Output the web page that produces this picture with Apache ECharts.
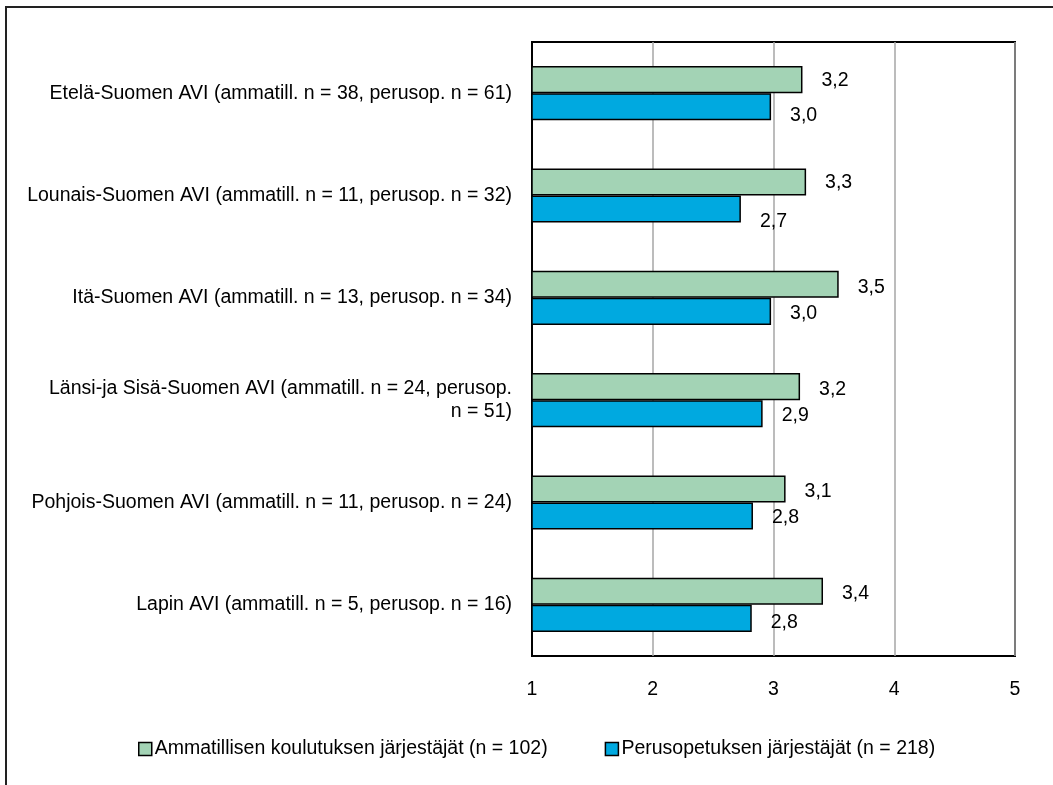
<!DOCTYPE html>
<html>
<head>
<meta charset="utf-8">
<script src="https://cdn.jsdelivr.net/npm/echarts@6/dist/echarts.min.js"></script>
<style>
html,body{margin:0;padding:0;background:#fff;}
#chart{width:1053px;height:785px;}
</style>
</head>
<body>
<div id="chart"></div>
<script>
const categories = [
  "Etelä-Suomen AVI (ammatill. n = 38, perusop. n = 61)",
  "Lounais-Suomen AVI (ammatill. n = 11, perusop. n = 32)",
  "Itä-Suomen AVI (ammatill. n = 13, perusop. n = 34)",
  "Länsi-ja Sisä-Suomen AVI (ammatill. n = 24, perusop.\nn = 51)",
  "Pohjois-Suomen AVI (ammatill. n = 11, perusop. n = 24)",
  "Lapin AVI (ammatill. n = 5, perusop. n = 16)"
];
const seriesNames = [
  "Ammatillisen koulutuksen järjestäjät (n = 102)",
  "Perusopetuksen järjestäjät (n = 218)"
];
const ammatillinen = [3.24, 3.27, 3.54, 3.22, 3.10, 3.41];
const perusopetus = [2.98, 2.73, 2.98, 2.91, 2.83, 2.82];
const xTicks = [1, 2, 3, 4, 5];

// label vertical nudges (style only)
const greenLabelDy = [1, 1, 3, 3, 3, 2];
const blueLabelDy = [9, 13, 2, 2, 2, 4];

const FONT = "'Liberation Sans', Arial, sans-serif";
const FS = 19.5;
const chart = echarts.init(document.getElementById('chart'), null, {renderer: 'canvas'});
const fmt = p => p.value.toFixed(1).replace('.', ',');

chart.setOption({
  backgroundColor: '#fff',
  animation: false,
  textStyle: {fontFamily: FONT},
  graphic: [{
    type: 'rect',
    shape: {x: 6, y: 7, width: 1200, height: 900},
    style: {fill: 'none', stroke: '#222', lineWidth: 2},
    silent: true
  }],
  grid: {
    left: 532, top: 42, right: 38, bottom: 129,
    show: true, borderColor: '#000', borderWidth: 2, containLabel: false
  },
  legend: {
    data: seriesNames,
    left: 133, top: 734,
    itemWidth: 13, itemHeight: 13, itemGap: 57,
    icon: 'rect',
    textStyle: {fontFamily: FONT, fontSize: FS, color: '#000', padding: [0, 0, 0, -2]},
    itemStyle: {borderColor: '#000', borderWidth: 1.5}
  },
  xAxis: {
    type: 'value',
    min: xTicks[0], max: xTicks[xTicks.length - 1], interval: 1,
    axisLine: {show: false},
    axisTick: {show: false},
    axisLabel: {fontFamily: FONT, fontSize: FS, color: '#000', margin: 24},
    splitLine: {show: true, lineStyle: {color: '#a6a6a6', width: 1.5}}
  },
  yAxis: {
    type: 'category',
    data: categories,
    inverse: true,
    axisLine: {show: true, lineStyle: {color: '#000', width: 2}},
    axisTick: {show: false},
    axisLabel: {fontFamily: FONT, fontSize: FS, color: '#000', margin: 20, align: 'right', lineHeight: 23}
  },
  series: [
    {
      name: seriesNames[0], type: 'bar',
      data: ammatillinen.map((v, i) => ({value: v, label: {offset: [0, greenLabelDy[i]]}})),
      barCategoryGap: '47%', barGap: '0%',
      itemStyle: {color: '#a3d3b5', borderColor: '#000', borderWidth: 1.5},
      label: {show: true, position: 'right', distance: 19, formatter: fmt,
              fontFamily: FONT, fontSize: FS, color: '#000'}
    },
    {
      name: seriesNames[1], type: 'bar',
      data: perusopetus.map((v, i) => ({value: v, label: {offset: [0, blueLabelDy[i]]}})),
      barCategoryGap: '47%', barGap: '0%',
      itemStyle: {color: '#00a9e0', borderColor: '#000', borderWidth: 1.5},
      label: {show: true, position: 'right', distance: 19, formatter: fmt,
              fontFamily: FONT, fontSize: FS, color: '#000'}
    }
  ]
});
</script>
</body>
</html>
